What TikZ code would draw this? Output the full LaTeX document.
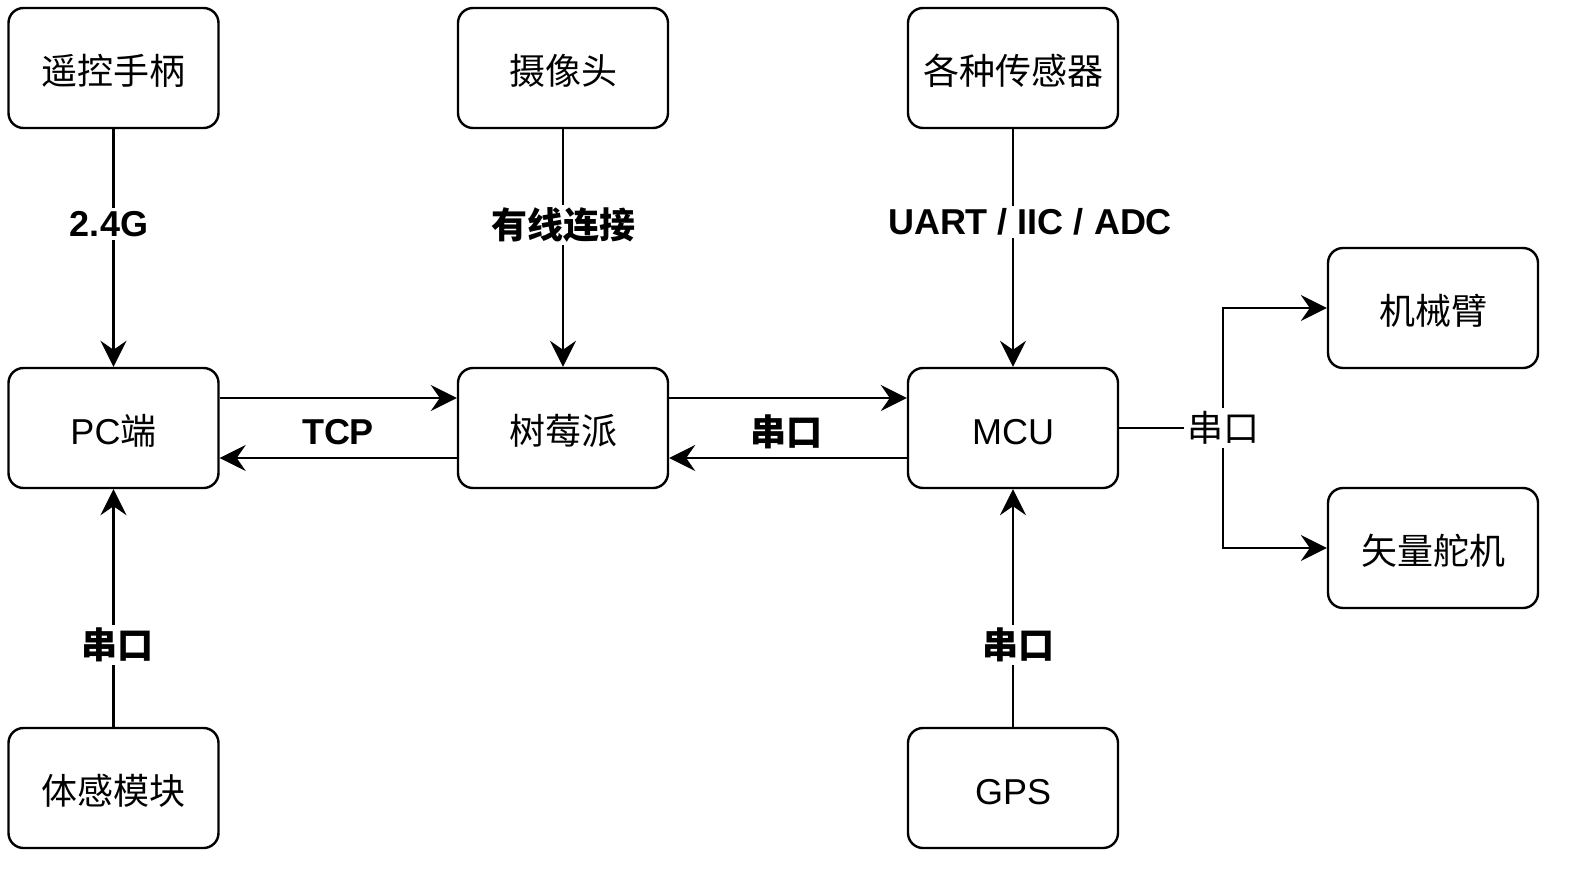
\documentclass[tikz,border=0pt]{standalone}
\usepackage{fontspec}
\setmainfont{Liberation Sans}
\newfontfamily\cjk{Noto Sans CJK SC}
\usetikzlibrary{arrows.meta}
\begin{document}
\begin{tikzpicture}[x=1pt,y=-1pt,
  box/.style={draw, line width=2.4pt, rounded corners=15pt, minimum width=210pt, minimum height=120pt, inner sep=0pt, text height=33pt, text depth=0pt, font=\fontsize{36}{42}\selectfont},
  lbl/.style={fill=white, inner sep=3pt, font=\fontsize{36}{42}\selectfont\bfseries},
  plainlbl/.style={fill=white, inner sep=3pt, font=\fontsize{36}{42}\selectfont},
  wire/.style={line width=2.4pt},
  conn/.style={line width=2.4pt, -{Stealth[length=26pt,width=26pt,inset=9pt]}}]
\useasboundingbox (0,0) rectangle (1581,891);

\node[box] (rc) at (113.5,68) {\cjk 遥控手柄};
\node[box] (cam) at (563,68) {\cjk 摄像头};
\node[box] (sens) at (1013,68) {\cjk 各种传感器};
\node[box] (pc) at (113.5,428) {PC{\cjk 端}};
\node[box] (rpi) at (563,428) {\cjk 树莓派};
\node[box] (mcu) at (1013,428) {MCU};
\node[box] (arm) at (1433,308) {\cjk 机械臂};
\node[box] (servo) at (1433,548) {\cjk 矢量舵机};
\node[box] (body) at (113.5,788) {\cjk 体感模块};
\node[box] (gps) at (1013,788) {GPS};

\draw[conn] (rc) -- (pc);
\node[lbl] (l1) at (109,224) {2.4G};
\draw[conn] (cam) -- (rpi);
\node[lbl] (l2) at (563,225) {\cjk\bfseries 有线连接};
\draw[conn] (sens) -- (mcu);
\node[lbl] (l3) at (1030,222) {UART / IIC / ADC};

\draw[conn] ([yshift=30pt]pc.east) -- ([yshift=30pt]rpi.west);
\draw[conn] ([yshift=-30pt]rpi.west) -- ([yshift=-30pt]pc.east);
\node[lbl] (l4) at (338,432) {TCP};
\draw[conn] ([yshift=30pt]rpi.east) -- ([yshift=30pt]mcu.west);
\draw[conn] ([yshift=-30pt]mcu.west) -- ([yshift=-30pt]rpi.east);
\node[lbl] (l5) at (786,432) {\cjk\bfseries 串口};

\draw[conn] (body) -- (pc);
\node[lbl] (l6) at (117,645) {\cjk\bfseries 串口};
\draw[conn] (gps) -- (mcu);
\node[lbl] (l7) at (1018,645) {\cjk\bfseries 串口};

\coordinate (br) at (1223,428);
\draw[wire] (mcu.east) -- (br);
\draw[conn] (br) |- (arm.west);
\draw[conn] (br) |- (servo.west);
\node[plainlbl] (l8) at (br) {\cjk 串口};
\end{tikzpicture}
\end{document}
